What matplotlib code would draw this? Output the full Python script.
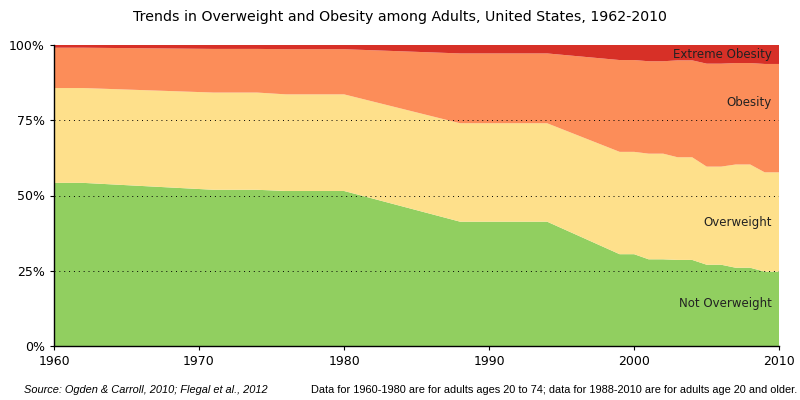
"""Stacked area: overweight and obesity among US adults, 1962-2010"""

import matplotlib

matplotlib.use("Agg")
import matplotlib.pyplot as plt
from matplotlib.ticker import FuncFormatter

# survey periods (start year, end year)
period_start = [1960, 1971, 1976, 1988, 1999, 2001, 2003, 2005, 2007, 2009]
period_end = [1962, 1974, 1980, 1994, 2000, 2002, 2004, 2006, 2008, 2010]

# percent of adults in each category
not_overweight = [54.2, 51.9, 51.5, 41.3, 30.5, 28.8, 28.6, 27.0, 26.0, 24.7]
overweight = [31.5, 32.3, 32.1, 32.7, 34.0, 35.1, 34.1, 32.6, 34.3, 33.0]
obesity = [13.4, 14.5, 15.0, 23.2, 30.5, 30.7, 32.2, 34.2, 33.7, 36.0]
extreme_obesity = [0.9, 1.3, 1.4, 2.8, 5.0, 5.4, 5.1, 6.2, 6.0, 6.3]

labels = ["Not Overweight", "Overweight", "Obesity", "Extreme Obesity"]
colors = ["#91cf60", "#fee08b", "#fc8d59", "#d73027"]
label_y = [14, 41, 81, 97]


def expand(vals):
    # each survey period is drawn flat from its first to its last year
    out = []
    for v in vals:
        out += [v, v]
    return out


years = []
for a, b in zip(period_start, period_end):
    years += [a, b]

series = [expand(s) for s in (not_overweight, overweight, obesity, extreme_obesity)]
# top band fills whatever is left up to 100%
tot = [sum(v) for v in zip(*series[:3])]
series[3] = [100 - t for t in tot]

fig = plt.figure(figsize=(8, 4), dpi=100)
ax = fig.add_axes([0.0675, 0.135, 0.9065, 0.7525])
ax.stackplot(years, *series, colors=colors, linewidth=0)

for y in (25, 50, 75):
    ax.axhline(y, color="black", linestyle=(0, (1, 4)), linewidth=0.7, zorder=3)

for lab, y in zip(labels, label_y):
    ax.text(2009.5, y, lab, ha="right", va="center", fontsize=8.5, color="#222222", zorder=4)

ax.set_xlim(1960, 2010)
ax.set_ylim(0, 100)
ax.set_xticks([1960, 1970, 1980, 1990, 2000, 2010])
ax.set_yticks([0, 25, 50, 75, 100])
ax.yaxis.set_major_formatter(FuncFormatter(lambda v, _: f"{v:.0f}%"))
ax.tick_params(labelsize=9, length=3, width=0.8, direction="out")
for side in ("top", "right"):
    ax.spines[side].set_visible(False)
for side in ("left", "bottom"):
    ax.spines[side].set_linewidth(1.0)

fig.text(0.5, 0.957, "Trends in Overweight and Obesity among Adults, United States, 1962-2010",
         ha="center", va="center", fontsize=10.2)

foot = ["Liberation Sans", "DejaVu Sans"]
fig.text(0.03, 0.025, "Source: Ogden & Carroll, 2010; Flegal et al., 2012",
         ha="left", va="center", fontsize=7.9, style="italic", family=foot)
fig.text(0.996, 0.025,
         "Data for 1960-1980 are for adults ages 20 to 74; data for 1988-2010 are for adults age 20 and older.",
         ha="right", va="center", fontsize=7.9, family=foot)

fig.savefig("out.png", dpi=100)
